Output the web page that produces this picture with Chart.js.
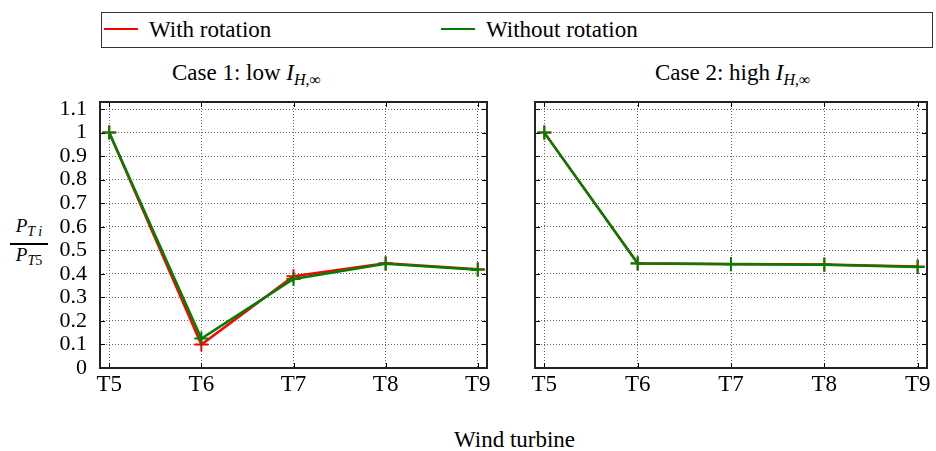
<!DOCTYPE html>
<html lang="en">
<head>
    <meta charset="UTF-8">
    <title>Power ratio per wind turbine</title>
    <style>
        body {
            margin: 0;
            width: 936px;
            height: 451px;
            background: #fff;
            font-family: "Liberation Serif", "Times New Roman", Times, Tinos, "DejaVu Serif", "Noto Serif", serif;
            color: #000;
            position: relative;
            overflow: hidden;
        }
        .box {
            position: absolute;
        }
        .legend {
            left: 101px;
            top: 12px;
            width: 830px;
            height: 34px;
            border: 1px solid #333;
            font-size: 23px;
        }
        .legend .item {
            position: absolute;
            top: 4px;
            line-height: 26px;
        }
        .legend .swatch {
            position: absolute;
            top: 15px;
            width: 34px;
            height: 2px;
        }
        .title {
            font-size: 23px;
            line-height: 26px;
            white-space: nowrap;
        }
        .title sub {
            font-size: 16px;
            vertical-align: -5px;
        }
        .frac {
            left: 10px;
            top: 216px;
            width: 38px;
            font-size: 19px;
            text-align: center;
            font-style: italic;
        }
        .frac div {
            line-height: 20px;
        }
        .frac .num {
            border-bottom: 2px solid #000;
            padding-bottom: 1px;
        }
        .frac sub {
            font-size: 14px;
            vertical-align: -4px;
        }
        .frac .up {
            font-style: normal;
        }
    </style>
    <script src="https://cdn.jsdelivr.net/npm/chart.js"></script>
</head>
<body>
    <div class="box legend" id="legend"></div>

    <div class="box title" style="left:172px; top:60px;">Case 1: low <i>I</i><sub><i>H</i>,∞</sub></div>
    <div class="box title" style="left:655px; top:60px;">Case 2: high <i>I</i><sub><i>H</i>,∞</sub></div>

    <div class="box frac">
        <div class="num">P<sub>T i</sub></div>
        <div>P<sub>T<span class="up">5</span></sub></div>
    </div>

    <div class="box" style="left:0; top:72px; width:500px; height:340px;"><canvas id="case1"></canvas></div>
    <div class="box" style="left:500px; top:72px; width:436px; height:340px;"><canvas id="case2"></canvas></div>

    <div class="box title" style="left:454px; top:427px;">Wind turbine</div>

    <script>
        // data
        const turbines = ['T5', 'T6', 'T7', 'T8', 'T9'];
        const yTicks = [0, 0.1, 0.2, 0.3, 0.4, 0.5, 0.6, 0.7, 0.8, 0.9, 1, 1.1];

        const seriesNames = ['With rotation', 'Without rotation'];
        const seriesColors = ['#ff0000', '#008000'];

        const case1WithRotation = [1.0, 0.10, 0.39, 0.445, 0.42];
        const case1WithoutRotation = [1.0, 0.125, 0.378, 0.443, 0.417];
        const case2WithRotation = [1.0, 0.445, 0.442, 0.440, 0.431];
        const case2WithoutRotation = [1.0, 0.444, 0.441, 0.439, 0.429];

        const serif = '"Liberation Serif", "Times New Roman", Times, Tinos, "DejaVu Serif", "Noto Serif", serif';

        // legend (html, spans both panels)
        const legend = document.getElementById('legend');
        const legendX = [2, 339];
        seriesNames.forEach((name, i) => {
            const sw = document.createElement('div');
            sw.className = 'swatch';
            sw.style.left = legendX[i] + 'px';
            sw.style.background = seriesColors[i];
            legend.appendChild(sw);
            const txt = document.createElement('div');
            txt.className = 'item';
            txt.style.left = (legendX[i] + 45) + 'px';
            txt.textContent = name;
            legend.appendChild(txt);
        });

        // box around plot area + small inner ticks on all four sides
        const framePlugin = {
            id: 'frame',
            afterDraw(chart) {
                const ctx = chart.ctx;
                const a = chart.chartArea;
                const xs = chart.scales.x, ys = chart.scales.y;
                ctx.save();
                ctx.strokeStyle = '#000';
                ctx.lineWidth = 1;
                ctx.beginPath();
                xs.ticks.forEach(t => {
                    const px = Math.round(xs.getPixelForValue(t.value)) + 0.5;
                    ctx.moveTo(px, a.bottom); ctx.lineTo(px, a.bottom - 5);
                    ctx.moveTo(px, a.top); ctx.lineTo(px, a.top + 5);
                });
                ys.ticks.forEach(t => {
                    const py = Math.round(ys.getPixelForValue(t.value)) + 0.5;
                    ctx.moveTo(a.left, py); ctx.lineTo(a.left + 5, py);
                    ctx.moveTo(a.right, py); ctx.lineTo(a.right - 5, py);
                });
                ctx.stroke();
                ctx.lineWidth = 2;
                ctx.strokeStyle = '#222';
                ctx.strokeRect(a.left, a.top, a.right - a.left, a.bottom - a.top);
                ctx.restore();
            }
        };

        function makeDataset(label, values, color, order) {
            return {
                label: label,
                data: values.map((v, i) => ({ x: i, y: v })),
                borderColor: color,
                backgroundColor: color,
                borderWidth: 2.5,
                pointStyle: 'cross',
                pointRadius: 7,
                pointBorderWidth: 2,
                order: order,
                fill: false
            };
        }

        function makeChart(id, withRot, withoutRot, showYLabels, yWidth, padRight) {
            const ctx = document.getElementById(id).getContext('2d');
            return new Chart(ctx, {
                type: 'line',
                data: {
                    datasets: [
                        makeDataset(seriesNames[0], withRot, seriesColors[0], 1),
                        makeDataset(seriesNames[1], withoutRot, seriesColors[1], 0)
                    ]
                },
                options: {
                    responsive: true,
                    maintainAspectRatio: false,
                    animation: false,
                    layout: { padding: { top: 30, right: padRight, bottom: 0, left: 0 } },
                    plugins: {
                        legend: { display: false },
                        tooltip: { enabled: false }
                    },
                    scales: {
                        x: {
                            type: 'linear',
                            min: -0.1,
                            max: 4.1,
                            afterBuildTicks: s => { s.ticks = turbines.map((t, i) => ({ value: i })); },
                            afterFit: s => { s.height = 44; },
                            grid: { color: '#666', lineWidth: 1, drawTicks: false },
                            border: { display: false, dash: [1, 2] },
                            ticks: {
                                padding: 3,
                                autoSkip: false,
                                maxRotation: 0,
                                color: '#000',
                                font: { family: serif, size: 23 },
                                callback: v => turbines[v]
                            }
                        },
                        y: {
                            min: 0,
                            max: 1.13,
                            afterBuildTicks: s => { s.ticks = yTicks.map(v => ({ value: v })); },
                            afterFit: s => { s.width = yWidth; },
                            grid: { color: '#666', lineWidth: 1, drawTicks: false },
                            border: { display: false, dash: [1, 2] },
                            ticks: {
                                display: showYLabels,
                                autoSkip: false,
                                padding: 13,
                                color: '#000',
                                font: { family: serif, size: 22, lineHeight: 1 },
                                callback: v => String(Number(v.toFixed(1)))
                            }
                        }
                    }
                },
                plugins: [framePlugin]
            });
        }

        makeChart('case1', case1WithRotation, case1WithoutRotation, true, 100, 13);
        makeChart('case2', case2WithRotation, case2WithoutRotation, false, 35, 3);
    </script>
</body>
</html>
